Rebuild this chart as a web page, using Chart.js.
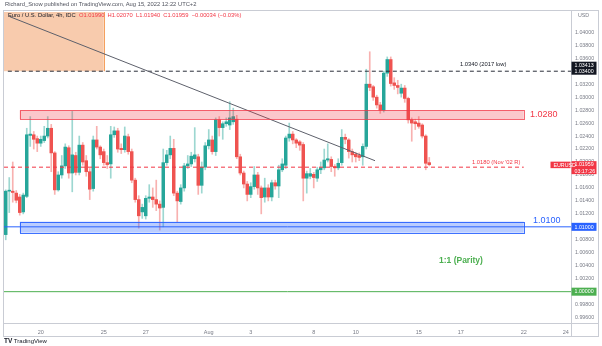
<!DOCTYPE html>
<html>
<head>
<meta charset="utf-8">
<script src="https://cdn.jsdelivr.net/npm/chart.js@4.4.0/dist/chart.umd.min.js"></script>
<style>
    body { margin: 0; background: #fff; }
    #wrap { position: relative; width: 602px; height: 346px; overflow: hidden; font-family: "Liberation Sans", Arial, sans-serif; }
    #chart { position: absolute; left: 0; top: 0; }
    .txt { position: absolute; white-space: nowrap; line-height: 1; }
</style>
</head>
<body>
<div id="wrap">
    <canvas id="chart" width="602" height="346"></canvas>
    <div class="txt" style="left:5px;top:2px;font-size:5.8px;color:#50535e">Richard_Snow published on TradingView.com, Aug 15, 2022 12:22 UTC+2</div>
    <div class="txt" style="left:8px;top:13px;font-size:5.8px;color:#131722">Euro / U.S. Dollar, 4h, IDC&nbsp; <span style="color:#f23645">O1.01990&nbsp; H1.02070&nbsp; L1.01940&nbsp; C1.01959&nbsp; −0.00034 (−0.03%)</span></div>
    <div class="txt" style="left:4px;top:338px;font-size:6px;color:#131722"><b style="font-size:6.5px">TV</b> TradingView</div>
</div>
<script>
// EUR/USD 4h candles, Jul 18 – Aug 15 2022 (index = 4h bar, 6 per trading day)
const opens = [1.0088,1.0155,1.0155,1.0152,1.0146,1.0123,1.0147,1.0241,1.0242,1.0236,1.0229,1.0233,1.0240,1.0252,1.0214,1.0157,1.0180,1.0194,1.0222,1.0183,
    1.0210,1.0184,1.0226,1.0202,1.0185,1.0159,1.0234,1.0223,1.0216,1.0199,1.0197,1.0242,1.0248,1.0221,1.0219,1.0239,1.0216,1.0172,1.0142,1.0123,
    1.0117,1.0144,1.0146,1.0142,1.0135,1.0130,1.0199,1.0211,1.0221,1.0152,1.0139,1.0160,1.0194,1.0197,1.0205,1.0208,1.0164,1.0192,1.0225,1.0234,
    1.0216,1.0265,1.0253,1.0259,1.0257,1.0262,1.0266,1.0208,1.0183,1.0166,1.0150,1.0162,1.0180,1.0160,1.0146,1.0160,1.0146,1.0168,1.0163,1.0188,
    1.0195,1.0237,1.0243,1.0234,1.0231,1.0227,1.0175,1.0178,1.0181,1.0175,1.0188,1.0191,1.0203,1.0204,1.0193,1.0191,1.0199,1.0238,1.0234,1.0216,
    1.0212,1.0210,1.0208,1.0224,1.0320,1.0316,1.0300,1.0288,1.0280,1.0337,1.0358,1.0322,1.0318,1.0306,1.0314,1.0298,1.0265,1.0262,1.0260,1.0257,
    1.0240,1.0199];
const highs = [1.0157,1.0176,1.0200,1.0156,1.0150,1.0152,1.0252,1.0270,1.0247,1.0240,1.0240,1.0255,1.0270,1.0258,1.0216,1.0185,1.0210,1.0228,1.0225,1.0278,
    1.0215,1.0240,1.0230,1.0210,1.0190,1.0240,1.0255,1.0225,1.0220,1.0210,1.0255,1.0254,1.0252,1.0228,1.0254,1.0243,1.0220,1.0175,1.0148,1.0135,
    1.0148,1.0165,1.0160,1.0172,1.0140,1.0220,1.0218,1.0240,1.0235,1.0155,1.0165,1.0198,1.0210,1.0215,1.0253,1.0212,1.0200,1.0230,1.0250,1.0240,
    1.0268,1.0270,1.0262,1.0268,1.0293,1.0283,1.0272,1.0212,1.0186,1.0170,1.0168,1.0193,1.0184,1.0163,1.0175,1.0165,1.0172,1.0172,1.0195,1.0205,
    1.0240,1.0260,1.0247,1.0236,1.0233,1.0230,1.0186,1.0190,1.0184,1.0192,1.0200,1.0220,1.0228,1.0208,1.0196,1.0205,1.0250,1.0243,1.0236,1.0220,
    1.0215,1.0214,1.0228,1.0343,1.0370,1.0318,1.0303,1.0292,1.0340,1.0362,1.0362,1.0330,1.0326,1.0320,1.0318,1.0300,1.0268,1.0266,1.0270,1.0259,
    1.0242,1.0207];
const lows = [1.0080,1.0122,1.0138,1.0137,1.0118,1.0120,1.0145,1.0224,1.0220,1.0216,1.0224,1.0230,1.0237,1.0185,1.0150,1.0155,1.0175,1.0190,1.0175,1.0154,
    1.0180,1.0180,1.0195,1.0178,1.0142,1.0155,1.0220,1.0205,1.0195,1.0190,1.0175,1.0238,1.0215,1.0213,1.0215,1.0212,1.0168,1.0138,1.0098,1.0113,
    1.0112,1.0138,1.0130,1.0125,1.0095,1.0100,1.0195,1.0205,1.0148,1.0108,1.0135,1.0155,1.0190,1.0193,1.0200,1.0150,1.0152,1.0188,1.0220,1.0212,
    1.0210,1.0240,1.0235,1.0255,1.0250,1.0258,1.0205,1.0180,1.0160,1.0140,1.0145,1.0158,1.0150,1.0120,1.0138,1.0140,1.0140,1.0158,1.0145,1.0185,
    1.0190,1.0232,1.0228,1.0222,1.0218,1.0140,1.0152,1.0174,1.0160,1.0170,1.0182,1.0188,1.0200,1.0185,1.0178,1.0188,1.0195,1.0228,1.0206,1.0200,
    1.0200,1.0202,1.0195,1.0220,1.0310,1.0295,1.0283,1.0275,1.0277,1.0332,1.0317,1.0312,1.0305,1.0300,1.0292,1.0260,1.0232,1.0250,1.0252,1.0237,
    1.0188,1.0194];
const closes = [1.0155,1.0156,1.0153,1.0141,1.0122,1.0149,1.0242,1.0243,1.0235,1.0229,1.0235,1.0240,1.0252,1.0214,1.0157,1.0180,1.0194,1.0223,1.0183,1.0211,
    1.0184,1.0226,1.0200,1.0185,1.0158,1.0234,1.0223,1.0211,1.0199,1.0196,1.0242,1.0248,1.0220,1.0219,1.0240,1.0216,1.0172,1.0142,1.0117,1.0130,
    1.0144,1.0146,1.0142,1.0135,1.0129,1.0199,1.0211,1.0221,1.0152,1.0140,1.0160,1.0194,1.0197,1.0209,1.0211,1.0164,1.0192,1.0225,1.0234,1.0216,
    1.0265,1.0253,1.0259,1.0262,1.0268,1.0270,1.0208,1.0183,1.0166,1.0150,1.0162,1.0180,1.0160,1.0145,1.0160,1.0146,1.0168,1.0163,1.0188,1.0197,
    1.0237,1.0243,1.0234,1.0229,1.0226,1.0175,1.0182,1.0182,1.0176,1.0188,1.0191,1.0203,1.0205,1.0193,1.0191,1.0198,1.0238,1.0235,1.0216,1.0211,
    1.0208,1.0207,1.0224,1.0320,1.0315,1.0300,1.0288,1.0280,1.0337,1.0358,1.0321,1.0318,1.0315,1.0314,1.0298,1.0265,1.0260,1.0259,1.0255,1.0240,
    1.0198,1.01959];

// x-axis: day labels sit on the first bar of each day
const tickPos = [10, 28, 40, 58, 70, 88, 100, 118, 130, 148, 160];
const tickLabels = ["20", "25", "27", "Aug", "3", "8", "10", "15", "17", "22", "24"];
const yTicks = [0.996, 0.998, 1.000, 1.002, 1.004, 1.006, 1.008, 1.010, 1.012, 1.014, 1.016, 1.018,
    1.020, 1.022, 1.024, 1.026, 1.028, 1.030, 1.032, 1.034, 1.036, 1.038, 1.040];

// drawings
const trendX = [1.2, 105.5];
const trendY = [1.0424, 1.0202];
const low2017 = 1.0340;
const novR = 1.0192;
const parity = 1.0000;
const supportLine = 1.0100;
const zoneX = [4, 148];
const pinkZone = [1.0266, 1.0280];
const blueZone = [1.0091, 1.0108];
const boxX = [-0.5, 28];
const boxY = [1.0340, 1.0450];
const lastPrice = 1.01959;
const tag2017 = 1.03413;

const UP = "#26a69a", DOWN = "#ef5350";
const UP_WICK = "rgba(38,166,154,0.45)", DOWN_WICK = "rgba(239,83,80,0.45)";
const FONT = "'Liberation Sans', Arial, sans-serif";

const bodies = opens.map((o, i) => ({ x: i, y: [o, closes[i]] }));
const wicks = opens.map((o, i) => ({ x: i, y: [lows[i], highs[i]] }));
const bodyColors = opens.map((o, i) => closes[i] >= o ? UP : DOWN);
const wickColors = opens.map((o, i) => closes[i] >= o ? UP_WICK : DOWN_WICK);

function hLine(value, x0, x1, color, dash) {
    return {
        type: "line",
        data: [{ x: x0, y: value }, { x: x1, y: value }],
        borderColor: color, borderWidth: 1, borderDash: dash || [],
        pointRadius: 0, order: 0
    };
}

function tag(ctx, left, top, w, h, bg, lines, fg) {
    ctx.fillStyle = bg;
    ctx.fillRect(left, top, w, h);
    ctx.fillStyle = fg;
    ctx.font = "5.3px " + FONT;
    ctx.textBaseline = "middle";
    ctx.textAlign = "left";
    const step = h / lines.length;
    lines.forEach((t, k) => ctx.fillText(t, left + 3, top + step * (k + 0.5) + 0.3));
}

const overlay = {
    id: "overlay",
    beforeDatasetsDraw(chart) {
        const { ctx, chartArea: a, scales: { x, y } } = chart;
        ctx.save();
        ctx.beginPath();
        ctx.rect(a.left, a.top, a.right - a.left, a.bottom - a.top);
        ctx.clip();
        const x1 = x.getPixelForValue(boxX[0]), x2 = x.getPixelForValue(boxX[1]);
        const y1 = y.getPixelForValue(boxY[1]), y2 = y.getPixelForValue(boxY[0]);
        ctx.fillStyle = "#f8cbad";
        ctx.fillRect(x1, y1, x2 - x1, y2 - y1);
        ctx.strokeStyle = "#f5a05e";
        ctx.lineWidth = 1;
        ctx.beginPath();
        ctx.moveTo(Math.round(x2) + 0.5, y1);
        ctx.lineTo(Math.round(x2) + 0.5, y2);
        ctx.stroke();
        ctx.restore();
    },
    afterDatasetsDraw(chart) {
        const { ctx, chartArea: a, scales: { x, y } } = chart;
        ctx.save();
        ctx.beginPath();
        ctx.rect(a.left, a.top, a.right - a.left, a.bottom - a.top);
        ctx.clip();
        const zx1 = x.getPixelForValue(zoneX[0]), zx2 = x.getPixelForValue(zoneX[1]);
        [[pinkZone, "rgba(242,54,69,0.28)", "rgba(242,54,69,0.75)"],
         [blueZone, "rgba(41,98,255,0.32)", "rgba(41,98,255,0.9)"]].forEach(([z, fill, line]) => {
            const top = y.getPixelForValue(z[1]), bot = y.getPixelForValue(z[0]);
            ctx.fillStyle = fill;
            ctx.fillRect(zx1, top, zx2 - zx1, bot - top);
            ctx.strokeStyle = line;
            ctx.lineWidth = 1;
            ctx.strokeRect(Math.round(zx1) + 0.5, Math.round(top) + 0.5, Math.round(zx2 - zx1), Math.round(bot - top));
        });
        ctx.restore();

        // level captions
        ctx.save();
        ctx.textBaseline = "middle";
        ctx.textAlign = "left";
        ctx.font = "5.8px " + FONT;
        ctx.fillStyle = "#131722";
        ctx.fillText("1.0340 (2017 low)", 460, y.getPixelForValue(low2017) - 7);
        ctx.fillStyle = "#f23645";
        ctx.fillText("1.0180 (Nov '02 R)", 472, y.getPixelForValue(novR) - 4.5);
        ctx.font = "9px " + FONT;
        ctx.fillText("1.0280", 530, y.getPixelForValue((pinkZone[0] + pinkZone[1]) / 2));
        ctx.fillStyle = "#2962ff";
        ctx.fillText("1.0100", 533, y.getPixelForValue(supportLine) - 6.5);
        ctx.font = "bold 8.5px " + FONT;
        ctx.fillStyle = "#4caf50";
        ctx.fillText("1:1 (Parity)", 439, y.getPixelForValue(parity) - 31.5);
        ctx.restore();
    },
    afterDraw(chart) {
        const { ctx, chartArea: a, scales: { y } } = chart;
        ctx.save();
        // frame and axis separators
        ctx.strokeStyle = "#c9ccd4";
        ctx.lineWidth = 1;
        ctx.strokeRect(3.5, 10.5, 595, 326);
        ctx.beginPath();
        ctx.moveTo(a.right + 0.5, 10.5); ctx.lineTo(a.right + 0.5, 336.5);
        ctx.moveTo(3.5, a.bottom + 0.5); ctx.lineTo(598.5, a.bottom + 0.5);
        ctx.stroke();

        ctx.font = "5.3px " + FONT;
        ctx.fillStyle = "#787b86";
        ctx.textBaseline = "middle";
        ctx.fillText("USD", a.right + 7, 16);

        const L = a.right + 0.5, W = 25;
        const y34 = y.getPixelForValue(low2017);
        tag(ctx, L, y34 - 9.5, W, 13, "#131722", [tag2017.toFixed(5), low2017.toFixed(5)], "#fff");
        const yl = y.getPixelForValue(lastPrice);
        tag(ctx, L, yl - 3.5, W, 13, "#f23645", [lastPrice.toFixed(5), "03:17:26"], "#fff");
        tag(ctx, L - 21, yl - 3, 20, 6.5, "#f23645", ["EURUSD"], "#fff");
        const yb = y.getPixelForValue(supportLine);
        tag(ctx, L, yb - 4, W, 8, "#2962ff", [supportLine.toFixed(5)], "#fff");
        const yg = y.getPixelForValue(parity);
        tag(ctx, L, yg - 4, W, 8, "#4caf50", [parity.toFixed(5)], "#fff");
        ctx.restore();
    }
};

new Chart(document.getElementById("chart"), {
    type: "bar",
    data: {
        datasets: [
            { data: wicks, backgroundColor: wickColors, barThickness: 1, grouped: false, order: 3 },
            { data: bodies, backgroundColor: bodyColors, barThickness: 2.8, minBarLength: 1, grouped: false, order: 2 },
            {
                type: "line",
                data: trendX.map((v, i) => ({ x: v, y: trendY[i] })),
                borderColor: "#5d606b", borderWidth: 1, pointRadius: 0, order: 0
            },
            hLine(low2017, 0.6, 161.5, "#2a2e39", [4, 3]),
            hLine(novR, -0.5, zoneX[1], "#f23645", [4, 3]),
            hLine(supportLine, -0.5, 161.5, "#2962ff"),
            hLine(parity, -0.5, 161.5, "#4caf50")
        ]
    },
    options: {
        responsive: false,
        devicePixelRatio: 1,
        animation: false,
        layout: { padding: { left: 4, top: 12, right: 4, bottom: 10 } },
        plugins: { legend: { display: false }, tooltip: { enabled: false } },
        scales: {
            x: {
                type: "linear", min: -0.5, max: 161.5, offset: false,
                grid: { display: false, drawTicks: false }, border: { display: false },
                afterBuildTicks: s => { s.ticks = tickPos.map(v => ({ value: v })); },
                ticks: {
                    callback: v => tickLabels[tickPos.indexOf(v)],
                    font: { size: 5.5, family: FONT }, color: "#787b86",
                    padding: 6, maxRotation: 0, autoSkip: false
                },
                afterFit: s => { s.height = 13; s.paddingLeft = 0; s.paddingRight = 0; }
            },
            y: {
                position: "right", min: 0.99517, max: 1.04313,
                grid: { display: false, drawTicks: false }, border: { display: false },
                afterBuildTicks: s => { s.ticks = yTicks.map(v => ({ value: v })); },
                ticks: {
                    callback: v => v.toFixed(5),
                    font: { size: 5.3, family: FONT }, color: "#787b86", padding: 4
                },
                afterFit: s => { s.width = 27; s.paddingTop = 0; s.paddingBottom = 0; }
            }
        }
    },
    plugins: [overlay]
});
</script>
</body>
</html>
